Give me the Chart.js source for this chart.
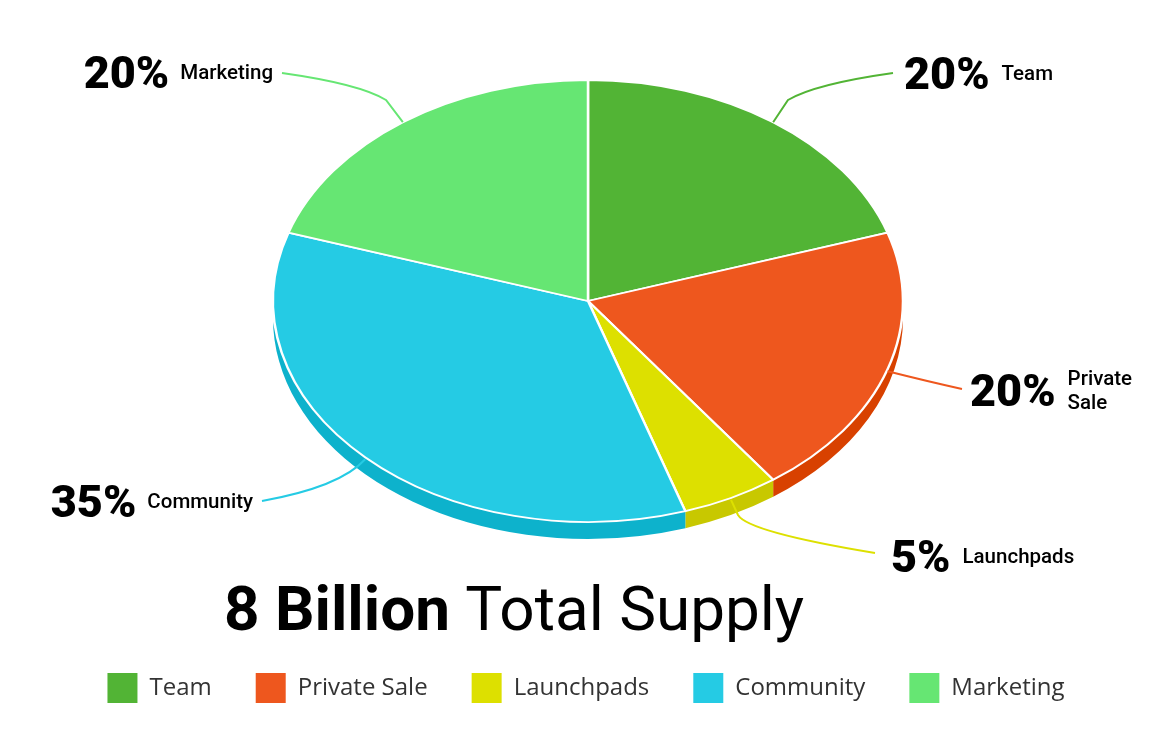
<!DOCTYPE html>
<html>
<head>
<meta charset="utf-8">
<title>Total Supply</title>
<script src="https://cdn.jsdelivr.net/npm/chart.js@4.4.1/dist/chart.umd.min.js"></script>
<style>
  html, body { margin: 0; padding: 0; background: #fff; }
  #wrap { position: relative; width: 1164px; height: 735px; }
</style>
</head>
<body>
<div id="wrap"><canvas id="supplyChart"></canvas></div>
<script>
const categories = ['Team', 'Private Sale', 'Launchpads', 'Community', 'Marketing'];
const shares = [20, 20, 5, 35, 20];
const topColors = ['#52b435', '#ee571e', '#dde000', '#25cbe4', '#66e673'];
const sideColors = ['#3f9a25', '#d84100', '#c8c800', '#0db2cc', '#4ccc5a'];
const titleBold = '8 Billion';
const titleRest = 'Total Supply';

// where the flattened pie sits on the page
const PIE = { cx: 588, cy: 301, rx: 315, ry: 221, depth: 17 };

// leader lines: optional elbow, curve control point, end of the line
const callouts = [
  { elbow: [788, 100], cp: [815, 84], end: [893, 73], side: 'right', gap: 11, dy: 0 },
  { elbow: null, cp: [930, 382], end: [962, 389], side: 'right', gap: 8, wrap: true, dy: 1 },
  { elbow: [738, 515], cp: [748, 532], end: [875, 553], side: 'right', gap: 16, dy: 3 },
  { elbow: null, cp: [340, 487], end: [262, 501], side: 'left', gap: 9, dy: 0 },
  { elbow: [386, 100], cp: [360, 84], end: [282, 73], side: 'left', gap: 9, dy: -1 }
];

const total = shares.reduce((s, v) => s + v, 0);

const pie3d = {
  id: 'pie3d',
  beforeDatasetsDraw(chart) {
    const ctx = chart.ctx;
    const meta = chart.getDatasetMeta(0);
    // side wall, only the front half is visible
    meta.data.forEach((arc, i) => {
      const a = Math.max(arc.startAngle, 0);
      const b = Math.min(arc.endAngle, Math.PI);
      if (b <= a) return;
      ctx.beginPath();
      ctx.ellipse(PIE.cx, PIE.cy, PIE.rx, PIE.ry, 0, a, b);
      ctx.ellipse(PIE.cx, PIE.cy + PIE.depth, PIE.rx, PIE.ry, 0, b, a, true);
      ctx.closePath();
      ctx.fillStyle = sideColors[i];
      ctx.fill();
    });
    // squash the round pie into the ellipse
    const arc0 = meta.data[0];
    const r = arc0.outerRadius;
    ctx.save();
    ctx.translate(PIE.cx, PIE.cy);
    ctx.scale(PIE.rx / r, PIE.ry / r);
    ctx.translate(-arc0.x, -arc0.y);
  },
  afterDatasetsDraw(chart) {
    const ctx = chart.ctx;
    ctx.restore();
    const meta = chart.getDatasetMeta(0);

    meta.data.forEach((arc, i) => {
      const c = callouts[i];
      const mid = (arc.startAngle + arc.endAngle) / 2;
      const sx = PIE.cx + PIE.rx * Math.cos(mid);
      const sy = PIE.cy + PIE.ry * Math.sin(mid) + (Math.sin(mid) > 0 ? 2 : 0);
      const [ex, ey] = c.end;

      ctx.save();
      ctx.strokeStyle = topColors[i];
      ctx.lineWidth = 2;
      ctx.beginPath();
      ctx.moveTo(sx, sy);
      if (c.elbow) ctx.lineTo(c.elbow[0], c.elbow[1]);
      ctx.quadraticCurveTo(c.cp[0], c.cp[1], ex, ey);
      ctx.stroke();

      const pct = Math.round(shares[i] / total * 100) + '%';
      const bigFont = '900 45px Roboto';
      const smallFont = '500 20.5px Roboto';
      ctx.font = bigFont;
      const pw = ctx.measureText(pct).width;
      ctx.font = smallFont;
      const lines = c.wrap ? categories[i].split(' ') : [categories[i]];
      const nw = Math.max(...lines.map(l => ctx.measureText(l).width));
      let px, nx;
      if (c.side === 'right') {
        px = ex + c.gap;
        nx = px + pw + 12;
      } else {
        nx = ex - c.gap - nw;
        px = nx - 11 - pw;
      }
      const ty = ey + c.dy;
      ctx.fillStyle = '#000';
      ctx.textAlign = 'left';
      ctx.textBaseline = 'alphabetic';
      ctx.font = bigFont;
      ctx.fillText(pct, px, ty + 16);
      ctx.font = smallFont;
      lines.forEach((l, k) => {
        const off = (k - (lines.length - 1) / 2) * 24;
        ctx.fillText(l, nx, ty + off + 7);
      });
      ctx.restore();
    });
  },
  afterDraw(chart) {
    const ctx = chart.ctx;
    ctx.save();
    ctx.fillStyle = '#000';
    ctx.textAlign = 'left';
    ctx.textBaseline = 'alphabetic';
    ctx.font = 'bold 62px Roboto';
    const x0 = 224;
    ctx.fillText(titleBold, x0, 630);
    const bw = ctx.measureText(titleBold + ' ').width;
    ctx.font = '62px Roboto';
    ctx.fillText(titleRest, x0 + bw, 630);
    ctx.restore();
  }
};

new Chart(document.getElementById('supplyChart'), {
  type: 'pie',
  data: {
    labels: categories,
    datasets: [{
      data: shares,
      backgroundColor: topColors,
      borderColor: '#ffffff',
      borderWidth: 2.5
    }]
  },
  options: {
    responsive: true,
    maintainAspectRatio: false,
    animation: false,
    events: [],
    layout: { padding: { left: 8, bottom: 22 } },
    plugins: {
      tooltip: { enabled: false },
      legend: {
        position: 'bottom',
        labels: {
          boxWidth: 30,
          boxHeight: 30,
          padding: 44,
          color: '#333',
          font: { family: "'Open Sans'", size: 24 },
          generateLabels(chart) {
            return Chart.overrides.pie.plugins.legend.labels.generateLabels(chart)
              .map(item => Object.assign(item, { lineWidth: 0, strokeStyle: 'rgba(0,0,0,0)' }));
          }
        }
      }
    }
  },
  plugins: [pie3d]
});
</script>
</body>
</html>
